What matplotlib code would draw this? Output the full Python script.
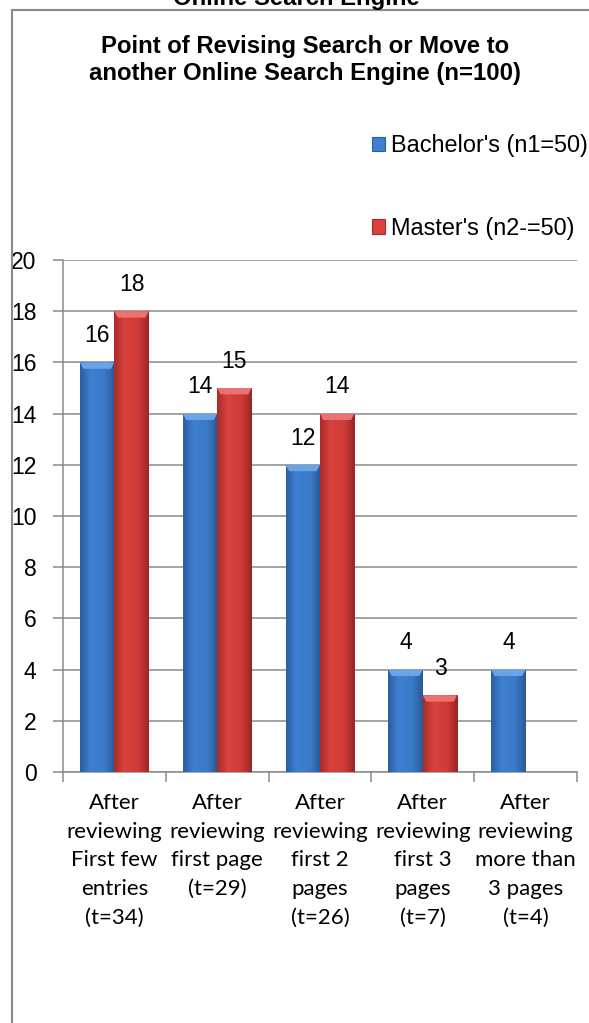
import numpy as np
import matplotlib
matplotlib.use("Agg")
import matplotlib.pyplot as plt
from matplotlib.lines import Line2D
from matplotlib.patches import Polygon, Patch
from matplotlib.colors import LinearSegmentedColormap

# --- data -------------------------------------------------------------
categories = [
    "After\nreviewing\nFirst few\nentries\n(t=34)",
    "After\nreviewing\nfirst page\n(t=29)",
    "After\nreviewing\nfirst 2\npages\n(t=26)",
    "After\nreviewing\nfirst 3\npages\n(t=7)",
    "After\nreviewing\nmore than\n3 pages\n(t=4)",
]
bachelors = [16, 14, 12, 4, 4]
masters = [18, 15, 14, 3, 0]
series_names = ["Bachelor's (n1=50)", "Master's (n2-=50)"]
title_lines = ["Point of Revising Search or Move to",
               "another Online Search Engine (n=100)"]
clipped_heading = "Online Search Engine"

# --- style ------------------------------------------------------------
W, H = 589, 1023
DPI = 100
blue_stops = ["#2c5d9f", "#3f80d2", "#3b7ac8", "#2a5a98"]
red_stops = ["#a92c29", "#d9423e", "#cf3b38", "#9c2725"]
blue_bevel = "#6aa3e6"
red_bevel = "#ea736f"
grid_col = "#8a8a8a"
sans = "Liberation Sans"

fig = plt.figure(figsize=(W / DPI, H / DPI), dpi=DPI)
fig.patch.set_facecolor("white")

def fx(px):
    return px / W

def fy(px):
    return 1 - px / H

ax = fig.add_axes([fx(63), fy(772), fx(577) - fx(63), fy(260) - fy(772)])

x = np.arange(len(categories))
bw = 0.335
off = bw / 2

bars_b = ax.bar(x - off, bachelors, bw, color=blue_stops[1], zorder=3, linewidth=0)
bars_m = ax.bar(x + off, masters, bw, color=red_stops[1], zorder=3, linewidth=0)

# shaded fill and bevelled top on each bar
grad = np.linspace(0, 1, 64).reshape(1, -1)
for bars, stops, bevel in ((bars_b, blue_stops, blue_bevel),
                           (bars_m, red_stops, red_bevel)):
    cmap = LinearSegmentedColormap.from_list("shade", list(zip([0, 0.3, 0.7, 1], stops)))
    for b in bars:
        h = b.get_height()
        if h <= 0:
            continue
        x0, w = b.get_x(), b.get_width()
        im = ax.imshow(grad, cmap=cmap, aspect="auto", extent=(x0, x0 + w, 0, h),
                       zorder=3.1, interpolation="bicubic")
        im.set_clip_path(b)
        dx = w * 0.1
        dy = 0.25
        top = Polygon([(x0, h), (x0 + w, h), (x0 + w - dx, h - dy), (x0 + dx, h - dy)],
                      closed=True, facecolor=bevel, edgecolor="none", zorder=3.2)
        ax.add_patch(top)
        side = Polygon([(x0 + w, h), (x0 + w, 0), (x0 + w - dx * 0.6, 0), (x0 + w - dx * 0.6, h - dy)],
                       closed=True, facecolor=stops[3], edgecolor="none", alpha=0.6, zorder=3.2)
        ax.add_patch(side)

ax.set_xlim(-0.5, len(categories) - 0.5)
ax.set_ylim(0, 20)
ax.set_yticks(np.arange(0, 21, 2))
ax.yaxis.grid(True, color=grid_col, linewidth=1.1, zorder=0)
ax.set_axisbelow(True)

ax.set_xticks(x)
ax.set_xticklabels(categories, fontfamily="Lato", fontsize=16, linespacing=1.55)
ax.set_xticks(np.arange(-0.5, len(categories), 1), minor=True)
ax.tick_params(axis="x", which="major", length=0, pad=15)
ax.tick_params(axis="x", which="minor", length=7, color=grid_col, width=1.1)
ax.tick_params(axis="y", length=7, color=grid_col, width=1.1, pad=12)
for lab in ax.get_yticklabels():
    lab.set_fontfamily(sans)
    lab.set_fontsize(16.5)

for s in ("top", "right"):
    ax.spines[s].set_visible(False)
for s in ("left", "bottom"):
    ax.spines[s].set_color(grid_col)
    ax.spines[s].set_linewidth(1.1)

ax.bar_label(bars_b, labels=[str(v) if v else "" for v in bachelors], padding=11,
             fontsize=16.5, fontfamily=sans, zorder=5)
ax.bar_label(bars_m, labels=[str(v) if v else "" for v in masters], padding=11,
             fontsize=16.5, fontfamily=sans, zorder=5)

# legend
handles = [Patch(facecolor=blue_stops[1], edgecolor=blue_stops[0], linewidth=0.8),
           Patch(facecolor=red_stops[1], edgecolor=red_stops[0], linewidth=0.8)]
fig.legend(handles, series_names, loc="upper left", bbox_to_anchor=(fx(372), fy(134)),
           frameon=False, prop={"family": sans, "size": 16.9},
           handlelength=0.55, handleheight=0.55, handletextpad=0.25,
           labelspacing=2.55, borderpad=0, borderaxespad=0)

# titles
fig.text(fx(305), fy(53), title_lines[0], ha="center", va="baseline",
         fontfamily=sans, fontweight="bold", fontsize=17.2)
fig.text(fx(305), fy(80), title_lines[1], ha="center", va="baseline",
         fontfamily=sans, fontweight="bold", fontsize=17.2)
fig.text(fx(296), fy(5), clipped_heading, ha="center", va="baseline",
         fontfamily=sans, fontweight="bold", fontsize=17.2)

# chart-area frame (left and top edges)
fig.add_artist(Line2D([fx(12), fx(12)], [fy(9.5), 0], color=grid_col, linewidth=1.5))
fig.add_artist(Line2D([fx(12), 1], [fy(9.5), fy(9.5)], color=grid_col, linewidth=1.5))

fig.savefig("out.png", dpi=DPI, facecolor="white")
